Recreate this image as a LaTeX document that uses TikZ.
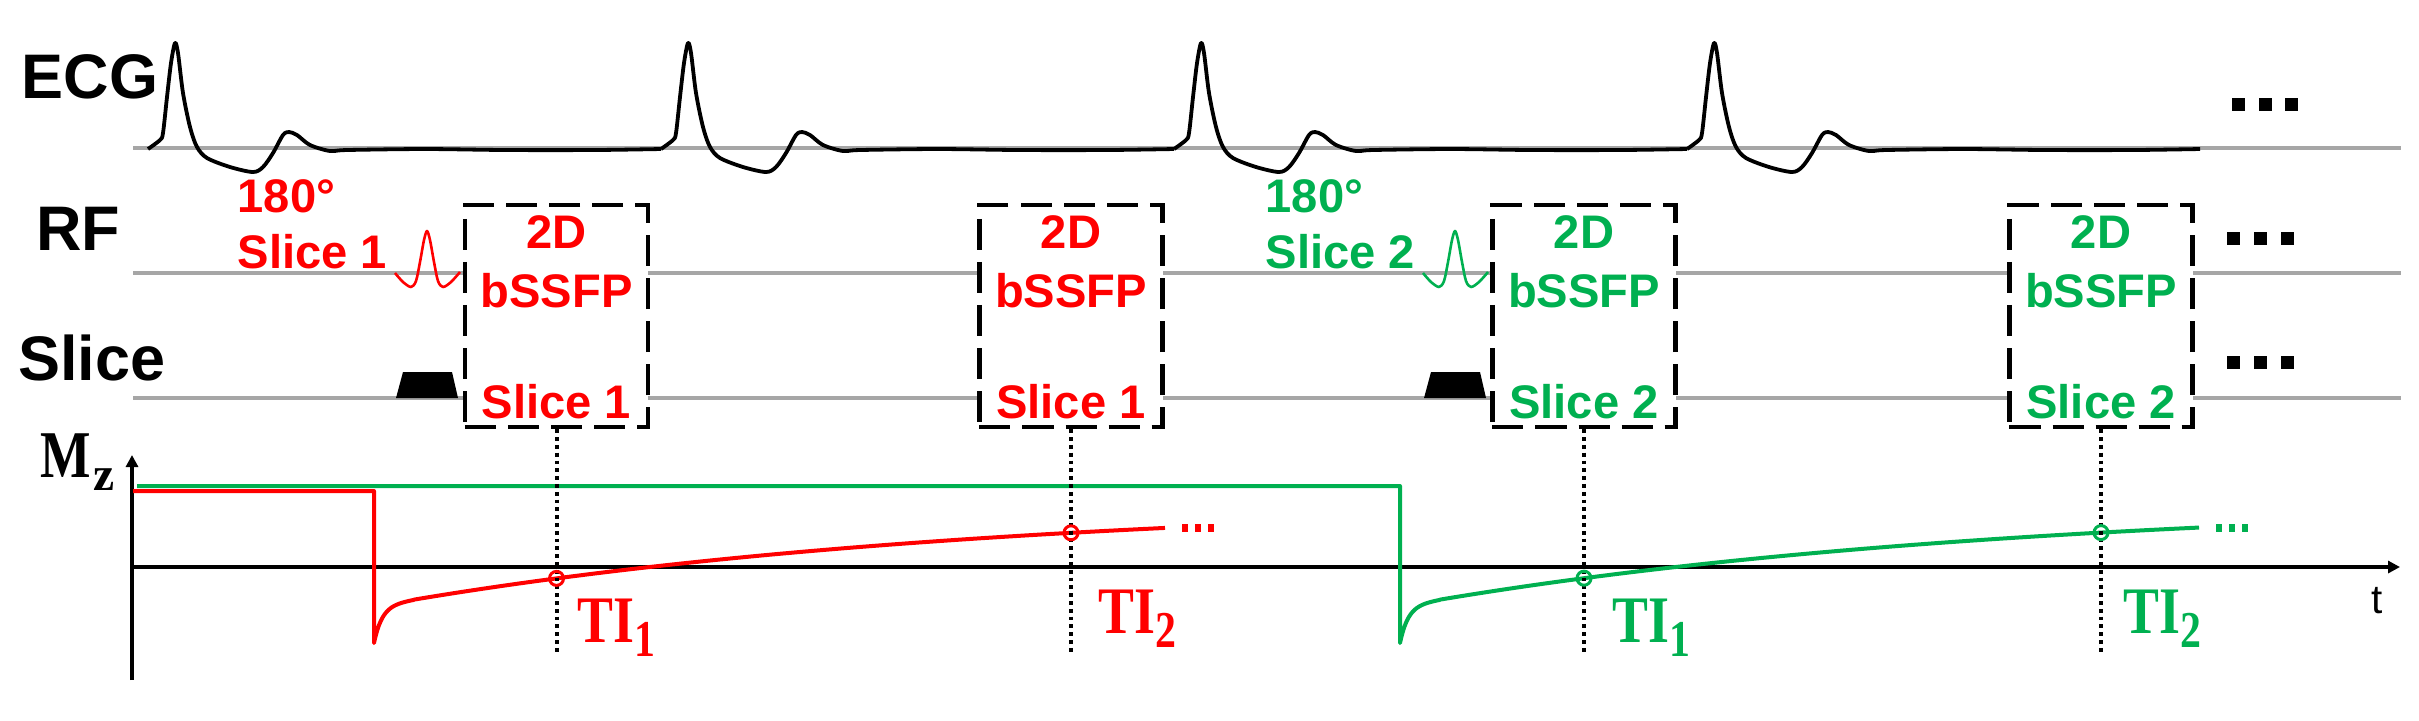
\documentclass[tikz,border=0pt]{standalone}
\usepackage{fontspec}
\usepackage{graphicx}
\setmainfont{Liberation Sans}
\newfontfamily\tiserif{Liberation Serif}
\usetikzlibrary{arrows.meta}
\definecolor{myred}{RGB}{255,0,0}
\definecolor{mygreen}{RGB}{0,176,80}
\definecolor{gridgray}{RGB}{166,166,166}
\newcommand{\tilab}[1]{\scalebox{0.85}[1.05]{\tiserif\bfseries\fontsize{18pt}{20pt}\selectfont TI\raisebox{-0.135cm}{\fontsize{14pt}{15pt}\selectfont #1}}}
\begin{document}
\begin{tikzpicture}[x=0.01cm, y=-0.01cm,
  gridline/.style={draw=gridgray, line width=0.04cm},
  rowlabel/.style={font=\fontsize{17.9pt}{20pt}\selectfont\bfseries, inner sep=0pt, anchor=base},
  seqtext/.style={font=\fontsize{13.4pt}{16pt}\selectfont\bfseries, inner sep=0pt, anchor=base},
  seqbox/.style={draw=black, fill=white, line width=0.045cm, dash pattern=on 0.31cm off 0.12cm, minimum width=1.83cm, minimum height=2.22cm, inner sep=0pt},
  dotline/.style={draw=black, line width=0.04cm, dash pattern=on 0.038cm off 0.04cm},
  ecgline/.style={draw=black, line width=0.038cm, line join=round},
  pulse/.style={line width=0.026cm, line join=round},
  mzline/.style={line width=0.04cm, line join=round},
  axisline/.style={draw=black, line width=0.042cm, -{Triangle[length=0.12cm,width=0.12cm]}},
  ticirc/.style={circle, draw, line width=0.03cm, minimum size=0.14cm, inner sep=0pt},
  tilabel/.style={inner sep=0pt, anchor=base west},
  declare function={mzrec(\t)=67.8-107.3*exp(-\t/600); mzfast(\t)=36.5*exp(-\t/8);}
]
\useasboundingbox (0,0) rectangle (2419,720);

% baselines
\coordinate (ecgL) at (133,148); \coordinate (ecgR) at (2401,148);
\coordinate (rfL) at (133,273);  \coordinate (rfR) at (2401,273);
\coordinate (slL) at (133,398);  \coordinate (slR) at (2401,398);
\draw[gridline] (ecgL) -- (ecgR);
\draw[gridline] (rfL) -- (rfR);
\draw[gridline] (slL) -- (slR);

% ECG
\foreach \k in {0,1,2,3} {
  \begin{scope}[shift={({175+513*\k},0)}]
    \draw[ecgline] plot[smooth, tension=0.5] coordinates {(-27,149) (-15,140) (-12,133) (-8,97) (-4,63) (0,43) (3,53) (8,93) (15,127) (22,147) (32,158) (55,167) (78,172) (88,167) (98,153) (108,135) (114,132) (122,135) (135,145) (155,151) (172,150) (250,149) (330,150) (420,150) (486,149)};
  \end{scope}
}

% row labels
\node[rowlabel] (ecglab) at (90,98) {ECG};
\node[rowlabel] (rflab) at (78,250) {RF};
\node[rowlabel] (slicelab) at (92,380) {Slice};

% boxes
\node[seqbox] (b1) at (556.5,316) {};
\node[seqbox] (b2) at (1071,316) {};
\node[seqbox] (b3) at (1584,316) {};
\node[seqbox] (b4) at (2101,316) {};
\node[seqtext, text=myred] (b1a) at (556.5,248) {2D};
\node[seqtext, text=myred] (b1b) at (556.5,307) {bSSFP};
\node[seqtext, text=myred] (b1c) at (556.5,418) {Slice 1};
\node[seqtext, text=myred] (b2a) at (1071,248) {2D};
\node[seqtext, text=myred] (b2b) at (1071,307) {bSSFP};
\node[seqtext, text=myred] (b2c) at (1071,418) {Slice 1};
\node[seqtext, text=mygreen] (b3a) at (1584,248) {2D};
\node[seqtext, text=mygreen] (b3b) at (1584,307) {bSSFP};
\node[seqtext, text=mygreen] (b3c) at (1584,418) {Slice 2};
\node[seqtext, text=mygreen] (b4a) at (2101,248) {2D};
\node[seqtext, text=mygreen] (b4b) at (2101,307) {bSSFP};
\node[seqtext, text=mygreen] (b4c) at (2101,418) {Slice 2};

% inversion labels
\node[seqtext, anchor=base west, text=myred] (inv1a) at (237,212) {180°};
\node[seqtext, anchor=base west, text=myred] (inv1b) at (237,268) {Slice 1};
\node[seqtext, anchor=base west, text=mygreen] (inv2a) at (1265,212) {180°};
\node[seqtext, anchor=base west, text=mygreen] (inv2b) at (1265,268) {Slice 2};

% RF pulses and slice gradients
\foreach \sh/\col in {0/myred, 1028/mygreen} {
  \begin{scope}[shift={(\sh,0)}]
    \draw[pulse, draw=\col] plot[smooth, tension=0.5] coordinates {(395,273) (403,282) (411,287) (416,281) (420,262) (424,240) (427,231) (430,240) (434,262) (438,281) (443,287) (451,282) (460,272)};
    \fill[black] (396,398) -- (403,372) -- (452,372) -- (458,398) -- cycle;
  \end{scope}
}

% continuation marks
\foreach \xx in {2232,2258.5,2285} \fill[black] (\xx,98) rectangle ++(13,13);
\foreach \xx in {2227,2254,2281} {
  \fill[black] (\xx,232) rectangle ++(13,13);
  \fill[black] (\xx,356) rectangle ++(13,13);
}

% Mz axes
\coordinate (yaxbot) at (132,680); \coordinate (yaxtop) at (132,455);
\coordinate (xaxl) at (132,567); \coordinate (xaxr) at (2400,567);
\draw[axisline] (yaxbot) -- (yaxtop);
\draw[axisline] (xaxl) -- (xaxr);
\node[inner sep=0pt, anchor=base west] (mzlab) at (40,477) {\tiserif\bfseries\fontsize{19pt}{20pt}\selectfont\scalebox{0.8}[1]{M}\hspace{0.02cm}\raisebox{-0.13cm}{\fontsize{13.5pt}{14pt}\selectfont z}};
\node[inner sep=0pt, anchor=base, font=\fontsize{11.5pt}{12pt}\selectfont] (tlab) at (2377,613) {t};

% Mz curves
\begin{scope}[shift={(1400,0)}]
  \draw[mzline, draw=mygreen] (-1263,486) -- (0,486) -- (0,643) -- plot[domain=0:40, samples=50] (\x,{567-mzrec(\x)+mzfast(\x)}) -- plot[domain=40:799, samples=80] (\x,{567-mzrec(\x)});
\end{scope}
\begin{scope}[shift={(374,0)}]
  \draw[mzline, draw=myred] (-241,491) -- (0,491) -- (0,643) -- plot[domain=0:40, samples=50] (\x,{567-mzrec(\x)+mzfast(\x)}) -- plot[domain=40:791, samples=80] (\x,{567-mzrec(\x)});
\end{scope}
\foreach \cx in {1185,1198,1211} \fill[myred] (\cx-3,524) rectangle (\cx+3,532);
\foreach \cx in {2219,2232,2245} \fill[mygreen] (\cx-3,524) rectangle (\cx+3,532);

% dotted TI lines
\coordinate (dotend) at (0,655);
\foreach \b in {b1,b2,b3,b4} \draw[dotline] (\b.south) -- (\b.south |- dotend);

% TI circles
\node[ticirc, draw=myred] (c1) at (556.5,{567-mzrec(182.5)}) {};
\node[ticirc, draw=myred] (c2) at (1071,{567-mzrec(697)}) {};
\node[ticirc, draw=mygreen] (c3) at (1584,{567-mzrec(184)}) {};
\node[ticirc, draw=mygreen] (c4) at (2101,{567-mzrec(701)}) {};

% TI labels
\node[tilabel, text=myred] (ti1r) at (577,642) {\tilab{1}};
\node[tilabel, text=myred] (ti2r) at (1098,633) {\tilab{2}};
\node[tilabel, text=mygreen] (ti1g) at (1612,642) {\tilab{1}};
\node[tilabel, text=mygreen] (ti2g) at (2123,633) {\tilab{2}};
\end{tikzpicture}
\end{document}
